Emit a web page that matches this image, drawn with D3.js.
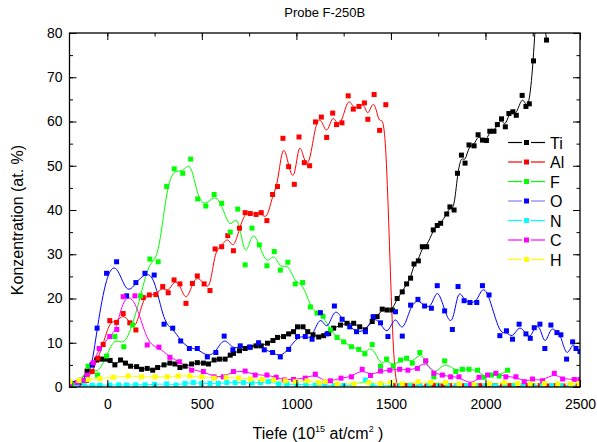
<!DOCTYPE html>
<html><head><meta charset="utf-8">
<script src="https://cdn.jsdelivr.net/npm/d3@7"></script>
<style>body{margin:0;background:#fff}text{font-family:"Liberation Sans",Arial,sans-serif}</style>
</head><body><svg id="c" width="597" height="442"></svg>
<script>
// ---- data ----
const xTicks = [0, 500, 1000, 1500, 2000, 2500];
const yTicks = [0, 10, 20, 30, 40, 50, 60, 70, 80];
const seriesNames = ["Ti", "Al", "F", "O", "N", "C", "H"];

const tiDepth = [-200,-170,-140,-107,-80,-57,-31,-5,15,40,70,96,123,155,181,211,240,266,300,331,358,384,411,446,476,508,535,565,593,623,650,667,699,729,756,787,814,847,876,900,932,959,985,1006,1035,1060,1088,1118,1144,1171,1197,1233,1268,1303,1335,1365,1401,1427,1454,1480,1507,1533,1560,1583,1604,1622,1645,1666,1689,1724,1745,1763,1795,1812,1834,1852,1873,1892,1913,1940,1961,1984,2005,2023,2045,2063,2085,2105,2124,2145,2163,2194,2214,2232,2254,2280,2323];
const tiValue = [0.5,0.8,1.5,3.6,5.0,6.1,6.3,6.3,6.0,5.0,6.1,5.4,4.7,4.6,4.0,4.2,3.8,4.4,5.0,5.4,5.2,4.4,4.7,5.2,5.5,5.4,5.2,6.1,6.3,6.3,7.2,7.6,8.2,8.7,9.0,9.3,9.3,9.9,10.5,11.2,11.4,12.0,12.5,13.6,13.6,12.5,11.8,11.3,11.6,12.1,13.3,14.0,14.4,14.4,13.6,12.9,14.8,15.9,17.6,17.4,17.4,20.0,21.5,23.3,24.6,27.8,28.5,31.7,31.7,35.5,36.5,37.0,39.1,40.7,40.0,48.3,52.4,50.6,54.7,54.5,57.0,55.8,55.7,57.8,57.8,59.3,60.6,58.8,61.8,62.2,61.4,65.9,63.4,64.0,73.7,95.0,78.4];

const alDepth = [-200,-170,-140,-110,-80,-50,-22,13,49,84,119,151,190,222,257,293,322,353,384,416,450,476,512,543,570,605,637,667,699,729,756,787,814,844,874,900,929,959,989,1014,1042,1070,1101,1132,1160,1192,1212,1241,1274,1301,1331,1360,1378,1411,1440,1473,1512,1545,1580,1615,1650,1690,1730,1770,1810,1850,1890,1930,1970,2010,2050,2090,2130,2170,2210,2250,2290,2330,2370,2410,2450,2490];
const alValue = [0.3,0.5,1.0,1.5,3.5,6.5,9.6,15.0,14.6,16.6,14.5,12.9,20.2,20.8,20.9,22.7,21.3,24.2,23.3,18.9,23.4,25.1,23.3,21.8,31.2,31.7,34.2,30.8,35.9,39.4,39.2,39.0,39.4,37.6,43.5,45.3,56.2,49.8,45.8,56.5,50.7,50.0,59.9,61.0,56.4,61.9,59.3,59.7,65.8,62.8,63.4,64.2,60.5,66.1,58.0,63.8,0.3,0.2,0.3,0.2,0.3,0.2,0.3,0.2,0.3,0.2,0.3,0.2,0.3,0.2,0.3,0.2,0.3,0.2,0.3,0.2,0.3,0.2,0.3,0.2,0.3,0.2];

const fDepth = [-200,-170,-140,-102,-52,-4,40,87,134,176,225,269,314,354,399,441,478,521,565,605,650,690,729,765,804,844,883,915,955,994,1033,1074,1109,1141,1180,1215,1250,1291,1330,1362,1401,1445,1477,1512,1551,1583,1613,1653,1684,1727,1784,1843,1878,1913,1958,1993,2032,2072,2117];
const fValue = [0.3,0.5,1.2,4.7,2.7,7.0,11.4,9.1,14.0,20.6,28.9,28.3,45.3,49.3,48.3,51.5,42.5,40.9,43.5,41.5,35.0,40.2,27.6,35.9,32.1,27.4,30.6,26.4,28.2,23.3,23.6,18.1,16.7,16.0,12.9,11.2,10.2,9.1,8.5,7.5,9.6,4.7,6.3,4.7,6.1,6.5,5.4,7.8,5.9,2.3,5.9,3.5,4.0,4.0,3.8,2.2,2.7,2.5,3.8];

const oDepth = [-200,-155,-110,-80,-54,-4,49,102,151,199,248,300,346,388,434,476,529,574,618,664,703,752,800,830,874,915,959,1006,1047,1083,1127,1162,1201,1242,1282,1318,1365,1406,1445,1484,1524,1560,1604,1643,1678,1714,1745,1784,1825,1855,1887,1918,1954,1984,2019,2076,2111,2143,2178,2214,2237,2258,2288,2314,2346,2378,2399,2429,2461,2479,2500];
const oValue = [0.3,0.5,2.0,5.0,13.3,25.7,28.3,20.6,23.6,25.7,25.3,14.2,13.3,10.4,8.7,8.7,6.8,7.8,11.5,8.4,9.3,9.0,10.0,8.4,7.8,6.8,8.5,11.4,11.4,10.8,16.8,12.0,18.3,15.3,13.6,12.5,12.5,15.9,14.5,11.4,17.0,11.5,18.5,19.8,18.3,17.8,22.9,17.2,13.0,22.7,19.5,19.1,19.1,22.9,20.8,11.6,12.7,10.8,14.2,12.0,11.0,13.4,14.2,8.7,14.0,12.3,11.8,6.3,10.2,8.7,8.0];

const nDepth = [-200,-160,-120,-80,-40,13,60,102,150,200,250,314,363,411,455,499,543,587,632,676,720,765,810,852,906,950,1000,1050,1100,1150,1200,1250,1300,1365,1400,1450,1500,1550,1600,1650,1700,1750,1800,1850,1900,1950,2000,2050,2100,2150,2200,2250,2300,2350,2400,2450,2500];
const nValue = [0.2,0.3,0.3,0.4,0.4,0.45,0.5,0.45,0.5,0.5,0.6,0.7,0.45,0.8,1.0,0.8,0.8,0.8,1.0,1.0,1.0,0.9,1.0,1.2,0.7,0.6,0.6,0.5,0.4,0.4,0.3,0.3,0.3,1.6,0.3,0.3,0.3,0.3,0.3,0.3,0.3,0.3,0.3,0.3,0.3,0.3,0.3,0.3,0.3,0.3,0.3,0.3,0.3,0.3,0.3,0.3,0.3];

const cDepth = [-200,-160,-130,-107,-75,-43,13,50,84,146,211,273,331,381,446,508,565,614,667,729,782,844,893,936,985,1047,1100,1153,1180,1236,1291,1348,1392,1445,1494,1546,1590,1640,1684,1727,1772,1816,1860,1922,1966,2011,2055,2108,2161,2205,2249,2302,2364,2408,2470,2500];
const cValue = [0.5,1.0,1.5,2.7,5.5,8.7,11.4,13.0,20.4,20.6,9.5,9.0,6.7,5.7,3.8,3.5,2.3,2.3,3.5,3.6,2.7,2.7,2.2,1.6,1.7,2.0,2.9,1.2,1.4,2.0,2.3,4.0,2.6,3.6,3.8,4.0,3.8,4.2,5.9,3.1,2.7,2.3,2.3,0.5,2.2,2.7,3.1,2.3,2.3,1.2,1.8,1.4,3.1,1.8,1.7,1.7];

const hDepth = [-200,-150,-102,-40,31,110,181,252,317,375,437,499,565,628,694,756,818,879,941,994,1056,1118,1153,1215,1303,1383,1445,1498,1560,1643,1710,1790,1860,1940,2019,2099,2170,2240,2311,2382,2452,2496];
const hValue = [1.2,1.5,1.7,1.9,2.2,2.5,2.3,2.3,2.3,2.5,2.5,2.3,2.0,2.2,2.0,1.8,1.7,1.6,1.4,1.2,1.4,1.0,1.2,0.7,0.7,1.0,0.8,1.0,0.7,1.2,1.0,1.0,0.7,0.5,0.8,1.0,0.8,0.7,0.8,0.7,0.7,0.8];

const colors = ["#000000","#ff0000","#00ff00","#0000ff","#00ffff","#ff00ff","#ffff00"];
const legendLineColors = ["#000000","#ff0000","#00ff00","#7f7fff","#00ffff","#ff00ff","#ffff00"];

const depths = [tiDepth, alDepth, fDepth, oDepth, nDepth, cDepth, hDepth];
const values = [tiValue, alValue, fValue, oValue, nValue, cValue, hValue];

// ---- chart ----
const svg = d3.select("#c");
const X0 = 69.5, X1 = 580, Y0 = 33, Y1 = 387;
const x = d3.scaleLinear().domain([-200, 2500]).range([X0, X1]);
const y = d3.scaleLinear().domain([0, 80]).range([Y1, Y0]);
const fmt = d3.format("d");

svg.append("defs").append("clipPath").attr("id","clip")
  .append("rect").attr("x",X0).attr("y",Y0).attr("width",X1-X0).attr("height",Y1-Y0);

const plot = svg.append("g").attr("clip-path","url(#clip)");
const line = d3.line().x(d=>x(d[0])).y(d=>y(d[1])).curve(d3.curveBasis);

seriesNames.forEach((name,i)=>{
  const pts = depths[i].map((dv,j)=>[dv, values[i][j]]);
  plot.append("path").datum(pts).attr("d", line)
    .attr("fill","none").attr("stroke",colors[i]).attr("stroke-width",1);
});
seriesNames.forEach((name,i)=>{
  const pts = depths[i].map((dv,j)=>[dv, values[i][j]]);
  plot.append("g").selectAll("rect").data(pts).join("rect")
    .attr("x",d=>x(d[0])-2.5).attr("y",d=>y(d[1])-2.5)
    .attr("width",5).attr("height",5).attr("fill",colors[i]);
});

// axes
const minorX = d3.range(-250, 2501, 250).filter(v=>v>=-200);
const minorY = d3.range(0, 81, 5);
function styleAxis(g){ g.select(".domain").remove(); g.selectAll("line").attr("stroke","#000"); g.selectAll("text").attr("font-size",14).attr("fill","#000"); }

svg.append("g").attr("transform",`translate(0,${Y1})`)
  .call(d3.axisBottom(x).tickValues(minorX).tickSizeInner(-3.5).tickSizeOuter(0).tickFormat(""))
  .call(styleAxis);
svg.append("g").attr("transform",`translate(0,${Y1})`)
  .call(d3.axisBottom(x).tickValues(xTicks).tickSizeInner(-7).tickSizeOuter(0).tickPadding(12).tickFormat(fmt))
  .call(styleAxis);
svg.append("g").attr("transform",`translate(0,${Y0})`)
  .call(d3.axisTop(x).tickValues(minorX).tickSizeInner(-3.5).tickSizeOuter(0).tickFormat(""))
  .call(styleAxis);
svg.append("g").attr("transform",`translate(0,${Y0})`)
  .call(d3.axisTop(x).tickValues(xTicks).tickSizeInner(-7).tickSizeOuter(0).tickFormat(""))
  .call(styleAxis);
svg.append("g").attr("transform",`translate(${X0},0)`)
  .call(d3.axisLeft(y).tickValues(minorY).tickSizeInner(-3.5).tickSizeOuter(0).tickFormat(""))
  .call(styleAxis);
svg.append("g").attr("transform",`translate(${X0},0)`)
  .call(d3.axisLeft(y).tickValues(yTicks).tickSizeInner(-7).tickSizeOuter(0).tickPadding(7).tickFormat(fmt))
  .call(styleAxis);
svg.append("g").attr("transform",`translate(${X1},0)`)
  .call(d3.axisRight(y).tickValues(minorY).tickSizeInner(-3.5).tickSizeOuter(0).tickFormat(""))
  .call(styleAxis);
svg.append("g").attr("transform",`translate(${X1},0)`)
  .call(d3.axisRight(y).tickValues(yTicks).tickSizeInner(-7).tickSizeOuter(0).tickFormat(""))
  .call(styleAxis);

svg.append("rect").attr("x",X0).attr("y",Y0).attr("width",X1-X0).attr("height",Y1-Y0)
  .attr("fill","none").attr("stroke","#000").attr("stroke-width",1.3);

// titles
svg.append("text").attr("x",(X0+X1)/2).attr("y",17).attr("text-anchor","middle")
  .attr("font-size",13).text("Probe F-250B");

const xt = svg.append("text").attr("x",318).attr("y",439).attr("text-anchor","middle").attr("font-size",16);
xt.append("tspan").text("Tiefe (10");
xt.append("tspan").attr("dy",-7).attr("font-size",9).text("15");
xt.append("tspan").attr("dy",7).text(" at/cm");
xt.append("tspan").attr("dy",-7).attr("font-size",9).text("2");
xt.append("tspan").attr("dy",7).text(" )");

svg.append("text").attr("transform","translate(23,220) rotate(-90)").attr("text-anchor","middle")
  .attr("font-size",16).text("Konzentration (at. %)");

// legend
const lg = svg.append("g");
seriesNames.forEach((name,i)=>{
  const yy = 142.5 + i*19.5;
  lg.append("line").attr("x1",508).attr("x2",522).attr("y1",yy).attr("y2",yy).attr("stroke",legendLineColors[i]).attr("stroke-width",1.2);
  lg.append("line").attr("x1",531).attr("x2",545).attr("y1",yy).attr("y2",yy).attr("stroke",legendLineColors[i]).attr("stroke-width",1.2);
  lg.append("rect").attr("x",524).attr("y",yy-2.5).attr("width",5).attr("height",5).attr("fill",colors[i]);
  lg.append("text").attr("x",550).attr("y",yy+6).attr("font-size",16).text(name);
});
</script></body></html>
